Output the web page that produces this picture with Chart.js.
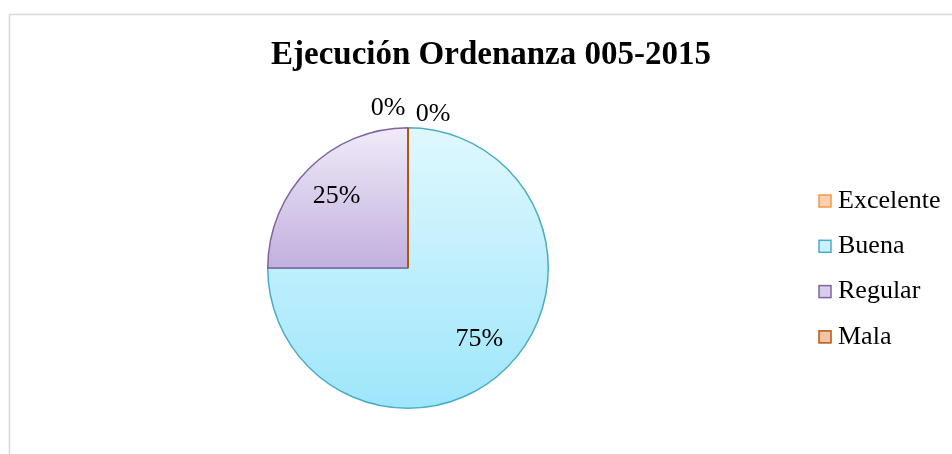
<!DOCTYPE html>
<html>
<head>
<meta charset="utf-8">
<script src="https://cdn.jsdelivr.net/npm/chart.js@4"></script>
<style>
  html, body { margin: 0; padding: 0; background: #fff; }
  #wrap { width: 952px; height: 454px; position: relative; }
</style>
</head>
<body>
<div id="wrap"><canvas id="myChart" width="952" height="454"></canvas></div>
<script>
const chartTitle = 'Ejecución Ordenanza 005-2015';
const categories = ['Excelente', 'Buena', 'Regular', 'Mala'];
const percentValues = [0, 75, 25, 0];

const serif = '"Liberation Serif", "Times New Roman", serif';
const borderColors = ['#f79646', '#4bacc6', '#8064a2', '#b65708'];
const legendFills = ['#fbd0ae', '#c8f2fd', '#d8cdeb', '#f5c2a8'];
// top / bottom colours of each slice's gradient
const gradTop = ['#fde3cf', '#e0f8fe', '#f0ebf8', '#f8d6c4'];
const gradBottom = ['#f9bf8f', '#9ee6fb', '#c2b0de', '#ee9f78'];

function sliceFill(context) {
    const chart = context.chart;
    const i = context.dataIndex;
    const area = chart.chartArea;
    if (!area) return gradBottom[i];
    const cy = (area.top + area.bottom) / 2;
    const r = Math.min(area.width, area.height) / 2;
    // vertical extent of the slice (Regular only covers the upper half)
    let top = cy - r, bottom = cy + r;
    if (i === 2) bottom = cy;
    const g = chart.ctx.createLinearGradient(0, top, 0, bottom);
    g.addColorStop(0, gradTop[i]);
    g.addColorStop(1, gradBottom[i]);
    return g;
}

const extrasPlugin = {
    id: 'extras',
    beforeDraw(chart) {
        const ctx = chart.ctx;
        ctx.save();
        ctx.strokeStyle = '#d9d9d9';
        ctx.lineWidth = 1.5;
        ctx.beginPath();
        ctx.moveTo(9.5, 460);
        ctx.lineTo(9.5, 14.5);
        ctx.lineTo(960, 14.5);
        ctx.stroke();
        ctx.restore();
    },
    afterDatasetsDraw(chart) {
        const ctx = chart.ctx;
        const meta = chart.getDatasetMeta(0);
        ctx.save();
        // zero slices still show their border as a radius line
        meta.data.forEach((arc, i) => {
            if (percentValues[i] !== 0) return;
            ctx.strokeStyle = borderColors[i];
            ctx.lineWidth = 2;
            ctx.beginPath();
            ctx.moveTo(arc.x, arc.y);
            ctx.lineTo(arc.x + Math.cos(arc.startAngle) * arc.outerRadius,
                       arc.y + Math.sin(arc.startAngle) * arc.outerRadius);
            ctx.stroke();
        });

        // data labels
        ctx.fillStyle = '#000';
        ctx.font = '26px ' + serif;
        ctx.textAlign = 'center';
        ctx.textBaseline = 'middle';
        let zeroCount = 0;
        meta.data.forEach((arc, i) => {
            const txt = percentValues[i] + '%';
            if (percentValues[i] === 0) {
                const r = arc.outerRadius + 17;
                const side = zeroCount === 0 ? 25 : -20;
                const dy = zeroCount === 0 ? 3 : -3;
                zeroCount++;
                ctx.fillText(txt, arc.x + Math.cos(arc.startAngle) * r + side,
                             arc.y + Math.sin(arc.startAngle) * r + dy);
            } else {
                const mid = (arc.startAngle + arc.endAngle) / 2;
                const r = arc.outerRadius * 0.72;
                ctx.fillText(txt, arc.x + Math.cos(mid) * r, arc.y + Math.sin(mid) * r);
            }
        });

        // title
        ctx.font = 'bold 33px ' + serif;
        ctx.fillText(chartTitle, 491, 55);

        // legend
        ctx.font = '26px ' + serif;
        ctx.textAlign = 'left';
        categories.forEach((name, i) => {
            const y = 201 + i * 45.3;
            ctx.fillStyle = legendFills[i];
            ctx.fillRect(819, y - 6, 12, 12);
            ctx.strokeStyle = borderColors[i];
            ctx.lineWidth = 1.5;
            ctx.strokeRect(819, y - 6, 12, 12);
            ctx.fillStyle = '#000';
            ctx.fillText(name, 838, y);
        });
        ctx.restore();
    }
};

const ctx = document.getElementById('myChart').getContext('2d');
const myChart = new Chart(ctx, {
    type: 'pie',
    data: {
        labels: categories,
        datasets: [{
            data: percentValues,
            backgroundColor: sliceFill,
            borderColor: borderColors,
            borderWidth: 1.5
        }]
    },
    options: {
        responsive: false,
        animation: false,
        layout: {
            padding: { left: 267, right: 403, top: 127, bottom: 45 }
        },
        plugins: {
            legend: { display: false },
            title: { display: false },
            tooltip: { enabled: false }
        }
    },
    plugins: [extrasPlugin]
});
</script>
</body>
</html>
